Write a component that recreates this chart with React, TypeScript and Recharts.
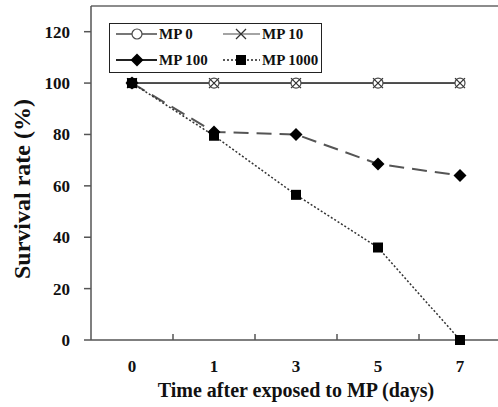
import React from 'react';
import { LineChart, Line, XAxis, YAxis, ReferenceLine, Legend } from 'recharts';

const days = ['0', '1', '3', '5', '7'];
const mp0 = [100, 100, 100, 100, 100];
const mp10 = [100, 100, 100, 100, 100];
const mp100 = [100, 81, 80, 68.5, 64];
const mp1000 = [100, 79.5, 56.5, 36, 0];
const yTicks = [0, 20, 40, 60, 80, 100, 120];
const xTicks = [0, 1, 2, 3, 4];

const data = days.map((d, i) => ({
  idx: i,
  day: d,
  mp0: mp0[i],
  mp10: mp10[i],
  mp100: mp100[i],
  mp1000: mp1000[i],
}));

const FONT = '"Liberation Serif", "Times New Roman", serif';
const LINE = '#4a4a4a';
const CHART_W = 506;
const CHART_H = 407;
const MARGIN = { top: 6, right: 5, left: 0, bottom: 17 };
const YAXIS_W = 91;
const TICK_SIZE = 6;
const TICK_MARGIN = 14;
const HALF_BAND = (CHART_W - MARGIN.left - MARGIN.right - YAXIS_W) / days.length / 2;

const CircleDot = (props: any) => {
  const { cx, cy } = props;
  if (cx == null || cy == null) return null;
  return <circle cx={cx} cy={cy} r={5} fill="#fff" stroke={LINE} strokeWidth={1.2} />;
};

const CrossDot = (props: any) => {
  const { cx, cy } = props;
  if (cx == null || cy == null) return null;
  const s = 5;
  return (
    <g stroke="#333" strokeWidth={1.2}>
      <line x1={cx - s} y1={cy - s} x2={cx + s} y2={cy + s} />
      <line x1={cx - s} y1={cy + s} x2={cx + s} y2={cy - s} />
    </g>
  );
};

const DiamondDot = (props: any) => {
  const { cx, cy } = props;
  if (cx == null || cy == null) return null;
  const s = 6.5;
  return <polygon points={`${cx},${cy - s} ${cx + s},${cy} ${cx},${cy + s} ${cx - s},${cy}`} fill="#000" />;
};

const SquareDot = (props: any) => {
  const { cx, cy } = props;
  if (cx == null || cy == null) return null;
  const s = 5;
  return <rect x={cx - s} y={cy - s} width={s * 2} height={s * 2} fill="#000" />;
};

// day label at the band centre, plus a short inward tick on the band's left boundary
const XTick = (props: any) => {
  const { x, y, payload } = props;
  const v = Number(payload.value);
  const axisY = y - TICK_SIZE - TICK_MARGIN;
  const bx = x - HALF_BAND;
  return (
    <g>
      {v > 0 && <path d={`M${bx},${axisY}V${axisY - 6}`} stroke="#555" strokeWidth={1.5} fill="none" />}
      <text x={x} y={y} dy="0.71em" textAnchor="middle" fontFamily={FONT} fontWeight="bold" fontSize={17} fill="#111">
        {days[v]}
      </text>
    </g>
  );
};

const LegendBox = () => (
  <svg width={213} height={50} style={{ display: 'block' }}>
    <rect x={0.5} y={0.5} width={212} height={49} fill="#fff" stroke="#222" strokeWidth={1} />
    <g fontFamily={FONT} fontWeight="bold" fontSize={15} fill="#111">
      <line x1={7} y1={11} x2={48} y2={11} stroke={LINE} strokeWidth={1.5} />
      <CircleDot cx={28} cy={11} />
      <text x={50} y={16}>MP 0</text>
      <line x1={114} y1={11} x2={151} y2={11} stroke={LINE} strokeWidth={1.2} />
      <CrossDot cx={132} cy={11} />
      <text x={153} y={16}>MP 10</text>
      <line x1={7} y1={37} x2={48} y2={37} stroke="#222" strokeWidth={1.8} />
      <DiamondDot cx={28} cy={37} />
      <text x={50} y={42}>MP 100</text>
      <line x1={114} y1={37} x2={151} y2={37} stroke="#222" strokeWidth={1.5} strokeDasharray="2 2" />
      <SquareDot cx={132} cy={37} />
      <text x={153} y={42}>MP 1000</text>
    </g>
  </svg>
);

const YTitle = () => (
  <text
    x={22}
    y={189}
    transform="rotate(-90 22 189)"
    textAnchor="middle"
    dominantBaseline="central"
    fontFamily={FONT}
    fontWeight="bold"
    fontSize={24}
    fill="#111"
  >
    Survival rate (%)
  </text>
);

const XTitle = () => (
  <text
    x={296}
    y={390}
    textAnchor="middle"
    dominantBaseline="central"
    fontFamily={FONT}
    fontWeight="bold"
    fontSize={20}
    fill="#111"
  >
    Time after exposed to MP (days)
  </text>
);

export default function App() {
  const tickStyle = { fontFamily: FONT, fontWeight: 'bold' as const, fontSize: 17, fill: '#111' };
  return (
    <div style={{ position: 'absolute', top: 0, left: 0, width: 498, height: 407, overflow: 'hidden', background: '#fff' }}>
      <LineChart width={CHART_W} height={CHART_H} data={data} margin={MARGIN}>
        <XAxis
          type="number"
          dataKey="idx"
          domain={[-0.5, 4.5]}
          ticks={xTicks}
          interval={0}
          allowDataOverflow
          height={50}
          tickLine={false}
          tickSize={TICK_SIZE}
          tickMargin={TICK_MARGIN}
          axisLine={{ stroke: '#555', strokeWidth: 1.5 }}
          tick={<XTick />}
          label={{ content: () => <XTitle /> }}
        />
        <YAxis
          domain={[0, 130]}
          ticks={yTicks}
          width={YAXIS_W}
          tickSize={7}
          tickMargin={14}
          axisLine={{ stroke: '#555', strokeWidth: 1.5 }}
          tickLine={{ stroke: '#555', strokeWidth: 1.5 }}
          tick={tickStyle}
          label={{ content: () => <YTitle /> }}
        />
        <ReferenceLine y={130} stroke="#666" strokeWidth={1.5} />
        <Legend
          layout="horizontal"
          verticalAlign="middle"
          align="center"
          wrapperStyle={{ position: 'absolute', left: 109, top: 23, width: 213, height: 50 }}
          content={() => <LegendBox />}
        />
        <Line dataKey="mp0" stroke={LINE} strokeWidth={1.8} dot={<CircleDot />} isAnimationActive={false} />
        <Line dataKey="mp10" stroke={LINE} strokeWidth={1.8} dot={<CrossDot />} isAnimationActive={false} />
        <Line
          dataKey="mp100"
          stroke="#555"
          strokeWidth={2}
          strokeDasharray="15 8"
          dot={<DiamondDot />}
          isAnimationActive={false}
        />
        <Line
          dataKey="mp1000"
          stroke="#333"
          strokeWidth={1.5}
          strokeDasharray="2 2"
          dot={<SquareDot />}
          isAnimationActive={false}
        />
      </LineChart>
    </div>
  );
}
